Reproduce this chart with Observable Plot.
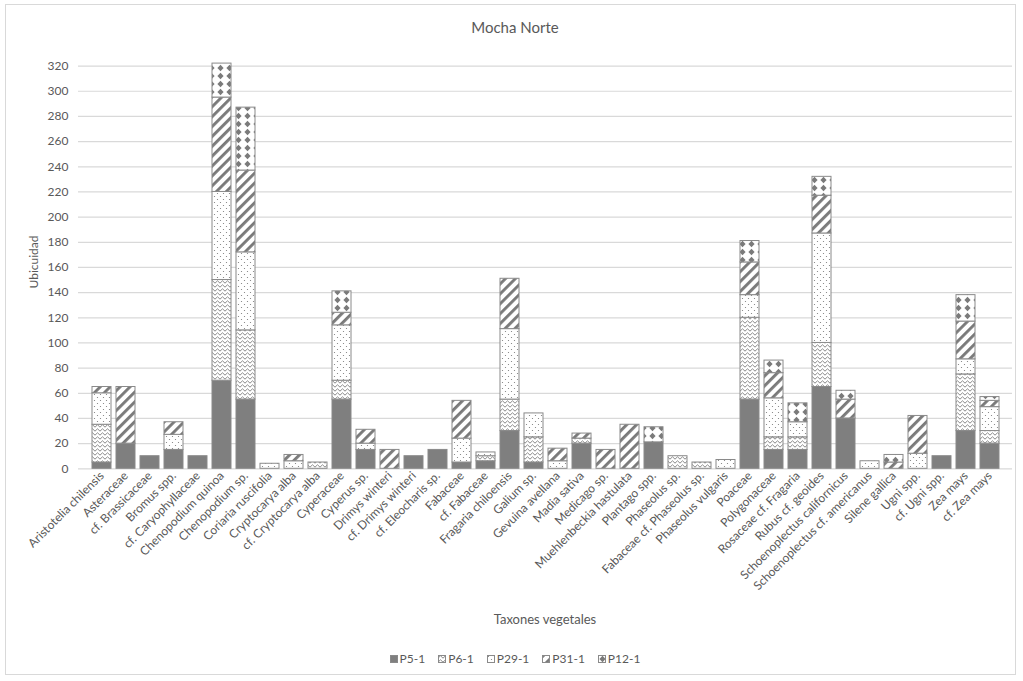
<!DOCTYPE html>
<html>
<head>
<meta charset="utf-8">
<script src="https://cdn.jsdelivr.net/npm/d3@7"></script>
<script src="https://cdn.jsdelivr.net/npm/@observablehq/plot@0.6"></script>
<style>
  html, body { margin: 0; padding: 0; background: #fff; }
  #chart { position: relative; width: 1023px; height: 681px; overflow: hidden; font-family: Lato, "Open Sans", sans-serif; color: #595959; }
  #frame { position: absolute; left: 5px; top: 4px; width: 1011px; height: 671px; border: 1px solid #d9d9d9; box-sizing: border-box; }
  #title { position: absolute; top: 18px; left: 0; width: 1030px; text-align: center; font-size: 15px; }
  #ylabel { position: absolute; left: 33px; top: 262px; transform: translate(-50%, -50%) rotate(-90deg); font-size: 12px; white-space: nowrap; }
  #xtitle { position: absolute; top: 611px; left: 0; width: 1090px; text-align: center; font-size: 13px; }
  #legend { position: absolute; top: 651px; left: 0; width: 1030px; display: flex; justify-content: center; gap: 13px; font-size: 12px; }
  #legend span.item { display: inline-flex; align-items: center; gap: 2px; }
  #plot { position: absolute; left: 0; top: 0; }
</style>
</head>
<body>
<div id="chart">
  <div id="frame"></div>
  <div id="title">Mocha Norte</div>
  <div id="plot"></div>
  <div id="ylabel">Ubicuidad</div>
  <div id="xtitle">Taxones vegetales</div>
  <div id="legend"></div>
</div>
<script>
// Taxa along the x axis
const taxa = [
  "Aristotelia chilensis", "Asteraceae", "cf. Brassicaceae", "Bromus spp.", "cf. Caryophyllaceae",
  "Chenopodium quinoa", "Chenopodium sp.", "Coriaria ruscifolia", "Cryptocarya alba", "cf. Cryptocarya alba",
  "Cyperaceae", "Cyperus sp.", "Drimys winteri", "cf. Drimys winteri", "cf. Eleocharis sp.",
  "Fabaceae", "cf. Fabaceae", "Fragaria chiloensis", "Galium sp.", "Gevuina avellana",
  "Madia sativa", "Medicago sp.", "Muehlenbeckia hastulata", "Plantago spp.", "Phaseolus sp.",
  "Fabaceae cf. Phaseolus sp.", "Phaseolus vulgaris", "Poaceae", "Polygonaceae", "Rosaceae cf. Fragaria",
  "Rubus cf. geoides", "Schoenoplectus californicus", "Schoenoplectus cf. americanus", "Silene gallica", "Ugni spp.",
  "cf. Ugni spp.", "Zea mays", "cf. Zea mays"
];

// Ubiquity per site (stacked bottom to top in this order)
const series = ["P5-1", "P6-1", "P29-1", "P31-1", "P12-1"];
const p5  = [5, 20, 10, 15, 10, 70, 55, 0, 0, 0, 55, 15, 0, 10, 15, 5, 6, 30, 5, 0, 20, 0, 0, 21, 0, 0, 0, 55, 15, 15, 65, 40, 0, 0, 0, 10, 30, 20];
const p6  = [30, 0, 0, 0, 0, 80, 55, 0, 0, 5, 15, 0, 0, 0, 0, 0, 4, 25, 20, 0, 4, 0, 0, 0, 10, 5, 0, 65, 10, 10, 35, 0, 0, 0, 0, 0, 45, 10];
const p29 = [25, 0, 0, 12, 0, 70, 62, 4, 6, 0, 44, 5, 0, 0, 0, 19, 3, 56, 19, 6, 0, 0, 0, 0, 0, 0, 7, 18, 31, 12, 87, 0, 6, 0, 12, 0, 12, 19];
const p31 = [5, 45, 0, 10, 0, 75, 65, 0, 5, 0, 10, 11, 15, 0, 0, 30, 0, 40, 0, 10, 4, 15, 35, 0, 0, 0, 0, 26, 20, 0, 30, 15, 0, 5, 30, 0, 30, 5];
const p12 = [0, 0, 0, 0, 0, 27, 50, 0, 0, 0, 17, 0, 0, 0, 0, 0, 0, 0, 0, 0, 0, 0, 0, 12, 0, 0, 0, 17, 10, 15, 15, 7, 0, 6, 0, 0, 21, 3];

const yTicks = d3.range(0, 321, 20);

// Fill patterns, one per site
const fills = ["#7f7f7f", "url(#pat-wave)", "url(#pat-dots)", "url(#pat-stripe)", "url(#pat-diamond)"];

const columns = [p5, p6, p29, p31, p12];
const rows = [];
taxa.forEach((t, i) => {
  series.forEach((s, j) => {
    const v = columns[j][i];
    if (v > 0) rows.push({taxon: t, serie: s, value: v});
  });
});

function addPatterns(svg) {
  const defs = d3.select(svg).insert("defs", ":first-child");
  const ink = "#7a7a7a";
  const wave = defs.append("pattern").attr("id", "pat-wave").attr("patternUnits", "userSpaceOnUse")
    .attr("width", 5).attr("height", 4);
  wave.append("rect").attr("width", 5).attr("height", 4).attr("fill", "#fff");
  wave.append("path").attr("d", "M0,3.2 L2.5,0.8 L5,3.2").attr("fill", "none").attr("stroke", ink).attr("stroke-width", 0.9);

  const dots = defs.append("pattern").attr("id", "pat-dots").attr("patternUnits", "userSpaceOnUse")
    .attr("width", 6).attr("height", 6);
  dots.append("rect").attr("width", 6).attr("height", 6).attr("fill", "#fff");
  dots.append("circle").attr("cx", 1.5).attr("cy", 1.5).attr("r", 0.6).attr("fill", ink);
  dots.append("circle").attr("cx", 4.5).attr("cy", 4.5).attr("r", 0.6).attr("fill", ink);

  const stripe = defs.append("pattern").attr("id", "pat-stripe").attr("patternUnits", "userSpaceOnUse")
    .attr("width", 7).attr("height", 7).attr("patternTransform", "rotate(45)");
  stripe.append("rect").attr("width", 7).attr("height", 7).attr("fill", "#fff");
  stripe.append("rect").attr("width", 2.9).attr("height", 7).attr("fill", ink);

  const diamond = defs.append("pattern").attr("id", "pat-diamond").attr("patternUnits", "userSpaceOnUse")
    .attr("width", 9).attr("height", 8);
  diamond.append("rect").attr("width", 9).attr("height", 8).attr("fill", "#fff");
  diamond.append("path").attr("d", "M4.5,0.8 L7.6,4 L4.5,7.2 L1.4,4 Z").attr("fill", ink);
}

const plot = Plot.plot({
  width: 1023,
  height: 600,
  marginTop: 65.6,
  marginBottom: 131.7,
  marginLeft: 78,
  marginRight: 11,
  style: {fontFamily: "Lato, 'Open Sans', sans-serif", fontSize: "12px", color: "#595959", background: "transparent"},
  x: {domain: taxa, padding: 0.22, label: null},
  y: {domain: [0, 320], label: null},
  color: {type: "ordinal", domain: series, range: fills},
  marks: [
    Plot.ruleY(yTicks, {stroke: "#d9d9d9", strokeWidth: 1.2}),
    Plot.barY(rows, {x: "taxon", y: "value", fill: "serie", stroke: "#8a8a8a", strokeWidth: 1}),
    Plot.axisY({ticks: yTicks, tickSize: 0, tickPadding: 10, label: null, fontSize: 12}),
    Plot.axisX({tickRotate: -45, tickSize: 0, tickPadding: 5, label: null, fontSize: 12})
  ]
});
addPatterns(plot);
document.getElementById("plot").appendChild(plot);

// Legend with pattern swatches
const legend = d3.select("#legend");
series.forEach((s, j) => {
  const item = legend.append("span").attr("class", "item");
  const sw = item.append("svg").attr("width", 8).attr("height", 8);
  sw.append("rect").attr("x", 0.5).attr("y", 0.5).attr("width", 7).attr("height", 7)
    .attr("fill", fills[j]).attr("stroke", "#8a8a8a").attr("stroke-width", 1);
  item.append("span").text(s);
});
</script>
</body>
</html>
